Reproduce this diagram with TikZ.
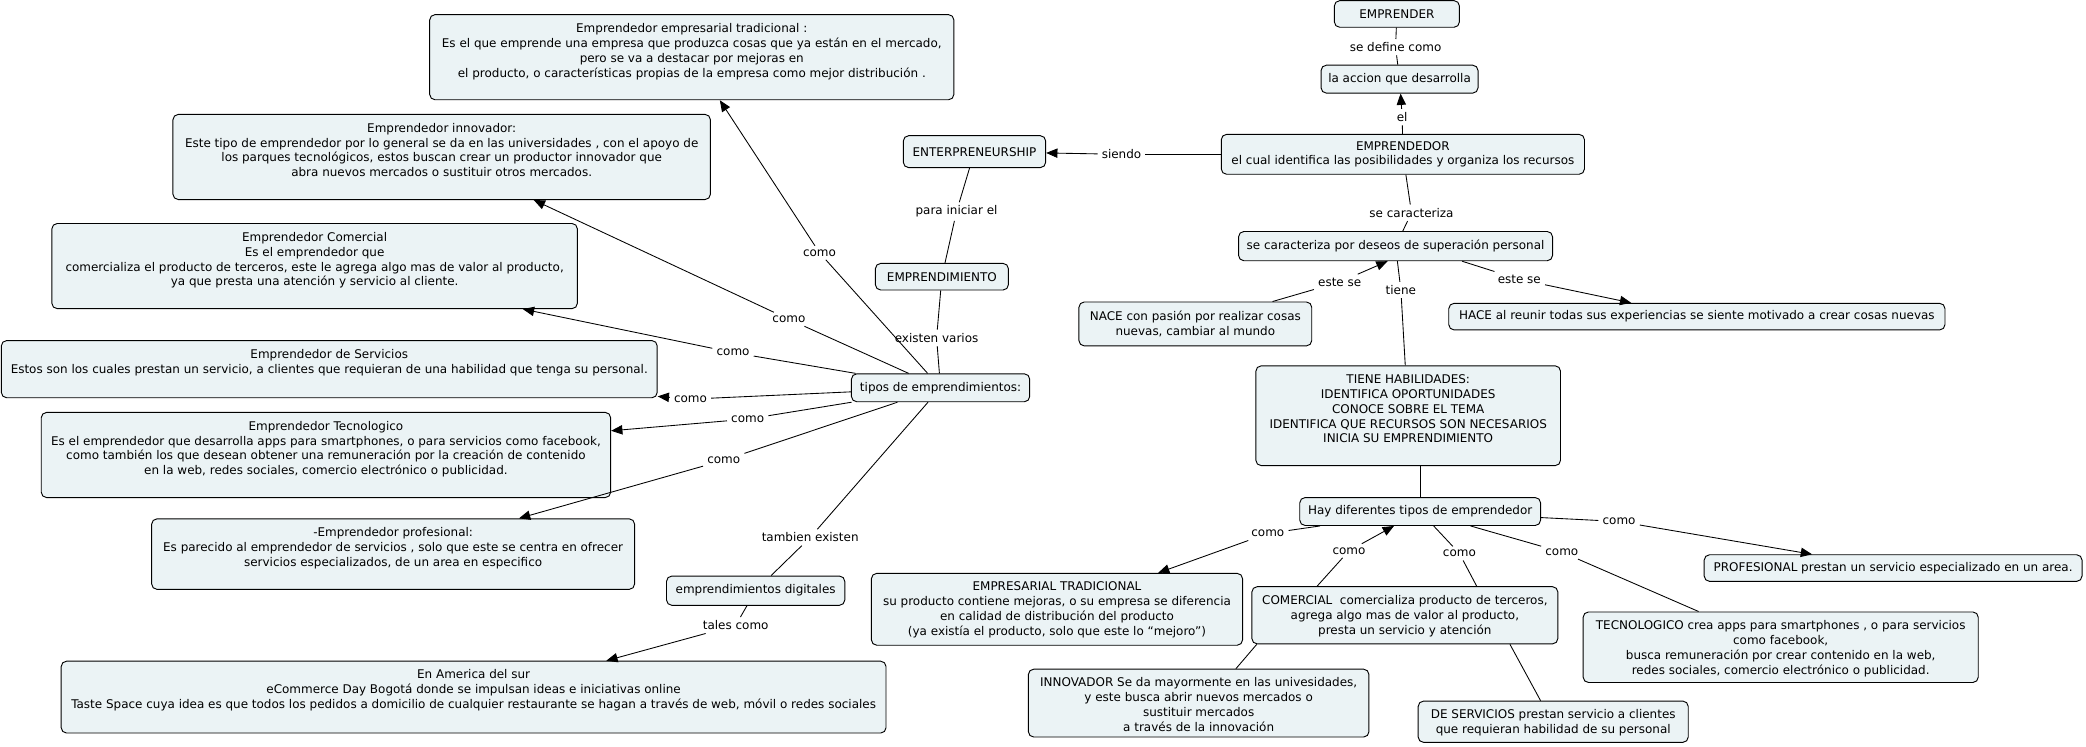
\documentclass[tikz,border=0pt]{standalone}
\usepackage{fontspec}
\setmainfont{DejaVu Sans}
\usetikzlibrary{arrows.meta}
\definecolor{boxfill}{RGB}{235,243,245}
\newcommand\bxt[3]{\begin{minipage}[c][#2][t]{#1}\centering\vspace*{6.5pt}#3\end{minipage}}
\newcommand\bxc[3]{\begin{minipage}[c][#2][c]{#1}\centering #3\end{minipage}}
\begin{document}
\begin{tikzpicture}[x=1pt,y=-1pt,
  every node/.style={font=\fontsize{9}{11.2}\selectfont},
  box/.style={draw=black,line width=0.7pt,fill=boxfill,rounded corners=4pt,inner sep=0pt},
  lbl/.style={inner xsep=3pt,inner ysep=2.5pt},
  ln/.style={draw=black,line width=0.65pt},
  arr/.style={ln,-{Triangle[length=8.5pt,width=7pt]}}]
\fill[white] (0,0) rectangle (1568,561);
\useasboundingbox (0,0) rectangle (1568,561);

% left part
\node[box] (empTrad) at (520,43) {\bxt{394pt}{64pt}{Emprendedor empresarial tradicional :\\Es el que emprende una empresa que produzca cosas que ya están en el mercado,\\pero se va a destacar por mejoras en\\el producto, o características propias de la empresa como mejor distribución .}};
\node[box] (empInnov) at (332,118) {\bxt{404pt}{64pt}{Emprendedor innovador:\\Este tipo de emprendedor por lo general se da en las universidades , con el apoyo de\\los parques tecnológicos, estos buscan crear un productor innovador que\\abra nuevos mercados o sustituir otros mercados.}};
\node[box] (empCom) at (236.5,200) {\bxt{395pt}{64pt}{Emprendedor Comercial\\Es el emprendedor que\\comercializa el producto de terceros, este le agrega algo mas de valor al producto,\\ya que presta una atención y servicio al cliente.}};
\node[box] (empServ) at (247.5,277.5) {\bxt{493pt}{43pt}{Emprendedor de Servicios\\Estos son los cuales prestan un servicio, a clientes que requieran de una habilidad que tenga su personal.}};
\node[box] (empTec) at (245,342) {\bxt{428pt}{64pt}{Emprendedor Tecnologico\\Es el emprendedor que desarrolla apps para smartphones, o para servicios como facebook,\\como también los que desean obtener una remuneración por la creación de contenido\\en la web, redes sociales, comercio electrónico o publicidad.}};
\node[box] (empProf) at (295.5,416.5) {\bxt{363pt}{53pt}{-Emprendedor profesional:\\Es parecido al emprendedor de servicios , solo que este se centra en ofrecer\\servicios especializados, de un area en especifico}};
\node[box] (digital) at (568,444) {\bxc{134pt}{22pt}{emprendimientos digitales}};
\node[box] (america) at (356,524) {\bxt{620pt}{54pt}{En America del sur\\eCommerce Day Bogotá donde se impulsan ideas e iniciativas online\\Taste Space cuya idea es que todos los pedidos a domicilio de cualquier restaurante se hagan a través de web, móvil o redes sociales}};
\node[box] (tipos) at (707,291.5) {\bxc{134pt}{21pt}{tipos de emprendimientos:}};
\node[box] (emprendimiento) at (708,208) {\bxc{100pt}{20pt}{EMPRENDIMIENTO}};
\node[box] (enterpr) at (732.5,114) {\bxc{107pt}{24pt}{ENTERPRENEURSHIP}};

% right part
\node[box] (emprender) at (1050,10.5) {\bxc{94pt}{20pt}{EMPRENDER}};
\node[box] (accion) at (1052,59.5) {\bxc{118pt}{21pt}{la accion que desarrolla}};
\node[box] (emprendedor) at (1054.5,116) {\bxc{273pt}{30pt}{EMPRENDEDOR\\el cual identifica las posibilidades y organiza los recursos}};
\node[box] (caract) at (1049,185) {\bxc{236pt}{22pt}{se caracteriza por deseos de superación personal}};
\node[box] (nace) at (898.5,243.5) {\bxc{175pt}{33pt}{NACE con pasión por realizar cosas\\nuevas, cambiar al mundo}};
\node[box] (hace) at (1275.5,238) {\bxc{373pt}{20pt}{HACE al reunir todas sus experiencias se siente motivado a crear cosas nuevas}};
\node[box] (tiene) at (1058.5,312.5) {\bxt{229pt}{75pt}{TIENE HABILIDADES:\\IDENTIFICA OPORTUNIDADES\\CONOCE SOBRE EL TEMA\\IDENTIFICA QUE RECURSOS SON NECESARIOS\\INICIA SU EMPRENDIMIENTO}};
\node[box] (hay) at (1067.5,384.5) {\bxc{181pt}{21pt}{Hay diferentes tipos de emprendedor}};
\node[box] (rTrad) at (794.5,458) {\bxt{279pt}{54pt}{EMPRESARIAL TRADICIONAL\\su producto contiene mejoras, o su empresa se diferencia\\en calidad de distribución del producto\\(ya existía el producto, solo que este lo “mejoro”)}};
\node[box] (rCom) at (1056,462.5) {\bxt{230pt}{43pt}{COMERCIAL~ comercializa producto de terceros,\\agrega algo mas de valor al producto,\\presta un servicio y atención}};
\node[box] (rInnov) at (901,528.5) {\bxt{256pt}{51pt}{INNOVADOR Se da mayormente en las univesidades,\\y este busca abrir nuevos mercados o\\sustituir mercados\\a través de la innovación}};
\node[box] (rServ) at (1167.5,542.5) {\bxt{203pt}{31pt}{DE SERVICIOS prestan servicio a clientes\\que requieran habilidad de su personal}};
\node[box] (rTec) at (1338.5,486.5) {\bxt{297pt}{53pt}{TECNOLOGICO crea apps para smartphones , o para servicios\\como facebook,\\busca remuneración por crear contenido en la web,\\redes sociales, comercio electrónico o publicidad.}};
\node[box] (rProf) at (1423,427) {\bxc{284pt}{20pt}{PROFESIONAL prestan un servicio especializado en un area.}};

% linking phrases
\node[lbl] (lDef) at (1049,35.5) {se define como};
\node[lbl] (lEl) at (1054,88) {el};
\node[lbl] (lSiendo) at (843,116) {siendo};
\node[lbl] (lPara) at (719,159) {para iniciar el};
\node[lbl] (lExisten) at (704,254) {existen varios};
\node[lbl] (lSeCar) at (1061,160) {se caracteriza};
\node[lbl] (lEste1) at (1007,212) {este se};
\node[lbl] (lEste2) at (1142,210) {este se};
\node[lbl] (lTiene) at (1053,218) {tiene};
\node[lbl] (lC1) at (953,401) {como};
\node[lbl] (lC2) at (1014,414) {como};
\node[lbl] (lC3) at (1097,416) {como};
\node[lbl] (lC4) at (1174,415) {como};
\node[lbl] (lC5) at (1217,392) {como};
\node[lbl] (lA) at (616,190) {como};
\node[lbl] (lB) at (593,240) {como};
\node[lbl] (lCc) at (551,265) {como};
\node[lbl] (lD) at (519,300) {como};
\node[lbl] (lE) at (562,315) {como};
\node[lbl] (lF) at (544,346) {como};
\node[lbl] (lTamb) at (609,404) {tambien existen};
\node[lbl] (lTales) at (553,470) {tales como};

% connectors right
\draw[ln] (emprender) -- (lDef);
\draw[ln] (lDef) -- (accion);
\draw[ln] (emprendedor) -- (lEl);
\draw[arr] (lEl) -- (accion);
\draw[ln] (emprendedor) -- (lSiendo);
\draw[arr] (lSiendo) -- (enterpr);
\draw[ln] (emprendedor) -- (lSeCar);
\draw[ln] (lSeCar) -- (caract);
\draw[ln] (nace) -- (lEste1);
\draw[arr] (lEste1) -- ([xshift=-6pt]caract.south);
\draw[ln] ([xshift=50pt]caract.south) -- (lEste2);
\draw[arr] (lEste2) -- (hace);
\draw[ln] (caract) -- (lTiene);
\draw[ln] (lTiene) -- (tiene);
\draw[ln] ([xshift=9pt]tiene.south) -- (hay.north);
\draw[ln] (hay) -- (lC1);
\draw[arr] (lC1) -- (rTrad);
\draw[ln] ([xshift=-66pt]rCom.north) -- (lC2);
\draw[arr] (lC2) -- (hay);
\draw[ln] (hay) -- (lC3);
\draw[ln] (lC3) -- ([xshift=54pt]rCom.north);
\draw[ln] (hay) -- (lC4);
\draw[ln] (lC4) -- (rTec);
\draw[ln] (hay) -- (lC5);
\draw[arr] (lC5) -- (rProf);
\draw[ln] ([xshift=4pt]rCom.south west) -- ([xshift=28pt]rInnov.north);
\draw[ln] ([xshift=79pt]rCom.south) -- ([xshift=-9.5pt]rServ.north);

% connectors left
\draw[ln] (enterpr) -- (lPara);
\draw[ln] (lPara) -- (emprendimiento);
\draw[ln] (emprendimiento) -- (lExisten);
\draw[ln] (lExisten) -- (tipos);
\draw[ln] (tipos) -- (lA);
\draw[arr] (lA) -- (empTrad);
\draw[ln] (tipos) -- (lB);
\draw[arr] (lB) -- (empInnov);
\draw[ln] (tipos) -- (lCc);
\draw[arr] (lCc) -- (empCom);
\draw[ln] (tipos) -- (lD);
\draw[arr] (lD) -- (empServ);
\draw[ln] (tipos) -- (lE);
\draw[arr] (lE) -- (empTec);
\draw[ln] (tipos) -- (lF);
\draw[arr] (lF) -- (empProf);
\draw[ln] (tipos) -- (lTamb);
\draw[ln] (lTamb) -- (digital);
\draw[ln] (digital) -- (lTales);
\draw[arr] (lTales) -- (america);
\end{tikzpicture}
\end{document}
